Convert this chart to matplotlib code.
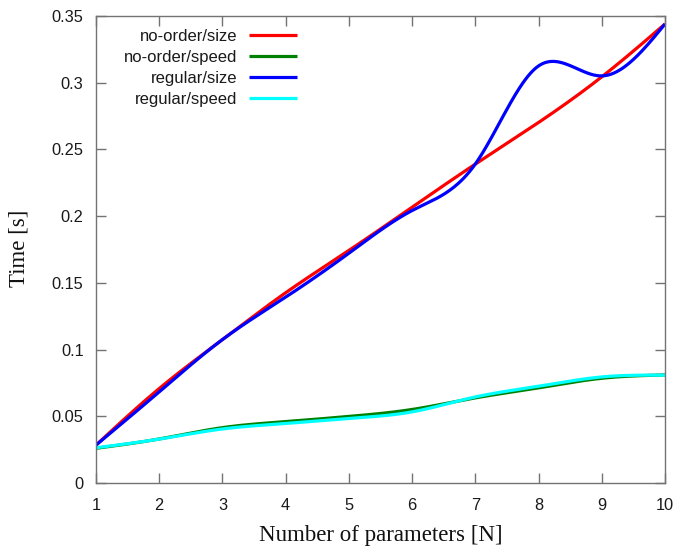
import numpy as np
import matplotlib
matplotlib.use("Agg")
import matplotlib.pyplot as plt
from matplotlib.ticker import FuncFormatter

# Data
n_params = [1, 2, 3, 4, 5, 6, 7, 8, 9, 10]
no_order_size = [0.0284, 0.0708, 0.1075, 0.1426, 0.1743, 0.2067, 0.2390, 0.2702, 0.3044, 0.3440]
no_order_speed = [0.0260, 0.0330, 0.0415, 0.0460, 0.0499, 0.0551, 0.0638, 0.0713, 0.0785, 0.0810]
regular_size = [0.0284, 0.0683, 0.1075, 0.1393, 0.1722, 0.2042, 0.2391, 0.3126, 0.3051, 0.3440]
regular_speed = [0.0264, 0.0329, 0.0405, 0.0446, 0.0484, 0.0533, 0.0645, 0.0725, 0.0795, 0.0808]

series = [
    ("no-order/size", no_order_size, "#ff0000"),
    ("no-order/speed", no_order_speed, "#008000"),
    ("regular/size", regular_size, "#0000ff"),
    ("regular/speed", regular_speed, "#00ffff"),
]


def natural_cspline(x, y, num=400):
    """Natural cubic spline (like gnuplot 'smooth csplines')."""
    x = np.asarray(x, float)
    y = np.asarray(y, float)
    n = len(x)
    h = np.diff(x)
    A = np.zeros((n, n))
    b = np.zeros(n)
    A[0, 0] = 1.0
    A[-1, -1] = 1.0
    for i in range(1, n - 1):
        A[i, i - 1] = h[i - 1]
        A[i, i] = 2 * (h[i - 1] + h[i])
        A[i, i + 1] = h[i]
        b[i] = 3 * ((y[i + 1] - y[i]) / h[i] - (y[i] - y[i - 1]) / h[i - 1])
    c = np.linalg.solve(A, b)
    bb = np.zeros(n - 1)
    d = np.zeros(n - 1)
    for i in range(n - 1):
        bb[i] = (y[i + 1] - y[i]) / h[i] - h[i] * (2 * c[i] + c[i + 1]) / 3
        d[i] = (c[i + 1] - c[i]) / (3 * h[i])
    xs = np.linspace(x[0], x[-1], num)
    idx = np.clip(np.searchsorted(x, xs, side="right") - 1, 0, n - 2)
    dx = xs - x[idx]
    ys = y[idx] + bb[idx] * dx + c[idx] * dx ** 2 + d[idx] * dx ** 3
    return xs, ys


fig = plt.figure(figsize=(6.78, 5.48), dpi=100)
ax = fig.add_axes([96 / 678, 1 - 483 / 548, (665 - 96) / 678, (483 - 16) / 548])

for label, vals, color in series:
    xs, ys = natural_cspline(n_params, vals)
    ax.plot(xs, ys, color=color, lw=2.3, label=label, solid_capstyle="butt")

ax.set_xlim(1, 10)
ax.set_ylim(0, 0.35)
ax.set_xticks(n_params)
ax.set_yticks(np.arange(0, 0.3501, 0.05))
ax.yaxis.set_major_formatter(FuncFormatter(lambda v, p: "%g" % round(v, 4)))

frame_col = "0.45"
for sp in ax.spines.values():
    sp.set_color(frame_col)
    sp.set_linewidth(1.0)
ax.tick_params(direction="in", length=7, width=1.0, color=frame_col,
               top=True, right=True, labelsize=11.8, labelcolor="#1a1a1a")
ax.tick_params(axis="y", pad=9)
ax.tick_params(axis="x", pad=11)
for t in ax.get_xticklabels() + ax.get_yticklabels():
    t.set_fontfamily("Liberation Sans")

ax.set_xlabel("Number of parameters [N]", fontfamily="Liberation Serif",
              fontsize=16.5, color="#111111")
ax.set_ylabel("Time [s]", fontfamily="Liberation Serif",
              fontsize=16.5, color="#111111")
ax.xaxis.set_label_coords(0.5, (483 - 525) / 467)
ax.yaxis.set_label_coords((30 - 96) / 569, (483 - 248.5) / 467)

leg = ax.legend(loc="upper right", bbox_to_anchor=(304 / 678, 1 - 22 / 548),
                bbox_transform=fig.transFigure, frameon=False, markerfirst=False,
                handlelength=2.93, handletextpad=0.66, labelspacing=0.37,
                borderaxespad=0, prop={"family": "Liberation Sans", "size": 12})
for t in leg.get_texts():
    t.set_color("#1a1a1a")

fig.savefig("out.png", dpi=100)
